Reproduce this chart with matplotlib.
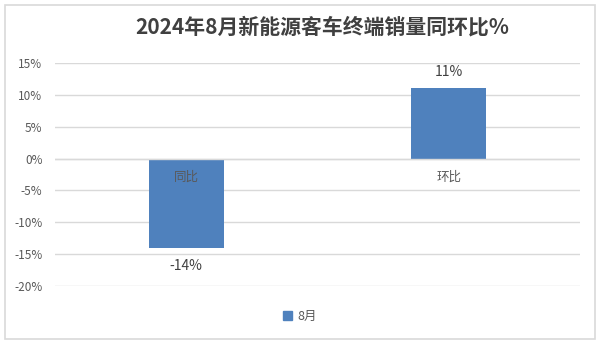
import matplotlib.pyplot as plt
from matplotlib.patches import Rectangle, Patch
from matplotlib.ticker import FuncFormatter

plt.rcParams['font.family'] = ['Noto Sans CJK SC', 'DejaVu Sans']

# data
categories = ['同比', '环比']
values = [-0.14, 0.11]
value_labels = ['-14%', '11%']
series_name = '8月'
title = '2024年8月新能源客车终端销量同环比%'

bar_color = '#4f81bd'
grey_txt = '#595959'
grid_col = '#d9d9d9'

fig = plt.figure(figsize=(6, 3.44), dpi=100)
ax = fig.add_axes([55/600, 1-286/344, 525/600, 223/344])

x = list(range(len(categories)))
bars = ax.bar(x, values, width=0.286, color=bar_color, zorder=3)

ax.set_xlim(-0.5, 1.5)
ax.set_ylim(-0.20, 0.15)
ax.set_yticks([-0.20, -0.15, -0.10, -0.05, 0, 0.05, 0.10, 0.15])
ax.yaxis.set_major_formatter(FuncFormatter(lambda v, p: f'{v*100:.0f}%'))
ax.grid(axis='y', color=grid_col, linewidth=1, zorder=0)
ax.tick_params(axis='y', length=0, labelsize=8.5, labelcolor=grey_txt, pad=9)

for s in ['top', 'right', 'left', 'bottom']:
    ax.spines[s].set_visible(False)
ax.set_xticks([])
ax.axhline(0, color=grid_col, linewidth=1, zorder=4)

# category labels next to the zero line
for xi, c in zip(x, categories):
    ax.annotate(c, (xi, 0), xytext=(0, -13.5), textcoords='offset points',
                ha='center', va='center', fontsize=9, color=grey_txt, zorder=5)

# value labels
for xi, v, t in zip(x, values, value_labels):
    off = 12 if v > 0 else -13
    ax.annotate(t, (xi, v), xytext=(0, off), textcoords='offset points',
                ha='center', va='center', fontsize=10, color='#404040')

fig.text(0.537, 0.922, title, ha='center', va='center', fontsize=15,
         fontweight='bold', color='#404040')

fig.legend(handles=[Patch(color=bar_color, label=series_name)],
           loc='center', bbox_to_anchor=(0.5, 1-316/344), frameon=False,
           fontsize=9, handlelength=0.7, handleheight=0.7, handletextpad=0.5,
           labelcolor=grey_txt)

fig.patches.append(Rectangle((5/600, 1-339/344), 590/600, 334/344,
                             transform=fig.transFigure, fill=False,
                             edgecolor=grid_col, linewidth=1.2))

fig.savefig('out.png', dpi=100)
